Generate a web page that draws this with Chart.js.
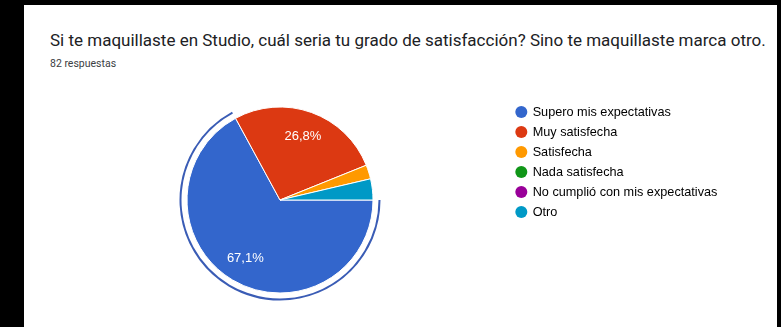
<!DOCTYPE html>
<html>
<head>
<meta charset="utf-8">
<script src="https://cdn.jsdelivr.net/npm/chart.js@4/dist/chart.umd.min.js"></script>
<style>
  html, body { margin: 0; padding: 0; width: 781px; height: 327px; background: #000; overflow: hidden; }
  #panel { position: absolute; left: 24px; top: 5px; width: 753px; height: 322px; background: #fff; }
  #title { position: absolute; left: 50px; top: 30px; font: 17px Roboto, sans-serif; color: #202124; white-space: nowrap; }
  #subtitle { position: absolute; left: 50px; top: 57px; font: 10.5px Roboto, sans-serif; color: #3c4043; white-space: nowrap; }
  #wrap { position: absolute; left: 0; top: 0; width: 781px; height: 327px; }
</style>
</head>
<body>
<div id="panel"></div>
<div id="title">Si te maquillaste en Studio, cuál seria tu grado de satisfacción? Sino te maquillaste marca otro.</div>
<div id="subtitle">82 respuestas</div>
<div id="wrap"><canvas id="chart" width="781" height="327"></canvas></div>
<script>
// Answer options and number of responses for each
const categories = [
  'Supero mis expectativas',
  'Muy satisfecha',
  'Satisfecha',
  'Nada satisfecha',
  'No cumplió con mis expectativas',
  'Otro'
];
const responses = [55, 22, 2, 0, 0, 3];

// Palette for the slices, in the same order as the categories
const sliceColors = ['#3366cc', '#dc3912', '#ff9900', '#109618', '#990099', '#0099c6'];
const highlightedSlice = 0;
const ringColor = '#3a5cb5';
const clear = 'rgba(0,0,0,0)';

const total = responses.reduce((a, b) => a + b, 0);

// Legend font and box settings
const legendFontSize = 12.7;
const legendFontFamily = '"Liberation Sans", Arial, sans-serif';
const legendBox = 10;
const legendPad = 7.3;

// Work out the legend width so the pie area ends where the legend begins
const measureCtx = document.createElement('canvas').getContext('2d');
measureCtx.font = legendFontSize + 'px ' + legendFontFamily;
const longestLabel = Math.max(...categories.map(t => measureCtx.measureText(t).width));
const legendWidth = legendPad + legendBox + legendFontSize / 2 + longestLabel + 10;
const pieAreaRight = 509;
const rightPad = 781 - pieAreaRight - legendWidth;

// Percentage labels placed inside the larger slices
const sliceLabels = {
  id: 'sliceLabels',
  afterDatasetsDraw(chart) {
    const meta = chart.getDatasetMeta(2);
    const ctx = chart.ctx;
    ctx.save();
    ctx.font = '13px "Liberation Sans", Arial, sans-serif';
    ctx.fillStyle = '#ffffff';
    ctx.textAlign = 'center';
    ctx.textBaseline = 'middle';
    meta.data.forEach((arc, i) => {
      const share = responses[i] / total;
      if (share < 0.05) return;
      const p = arc.getProps(['x', 'y', 'startAngle', 'endAngle', 'outerRadius']);
      const a = (p.startAngle + p.endAngle) / 2;
      const r = p.outerRadius * 0.73;
      const text = (share * 100).toFixed(1).replace('.', ',') + '%';
      ctx.fillText(text, p.x + Math.cos(a) * r, p.y + Math.sin(a) * r);
    });
    ctx.restore();
  }
};

new Chart(document.getElementById('chart'), {
  type: 'pie',
  data: {
    labels: categories,
    datasets: [
      {
        // thin outline ring around the highlighted slice
        data: responses,
        backgroundColor: sliceColors.map((c, i) => i === highlightedSlice ? ringColor : clear),
        borderWidth: 0,
        weight: 2
      },
      {
        // white gap between slice and outline
        data: responses,
        backgroundColor: clear,
        borderWidth: 0,
        weight: 5.5
      },
      {
        data: responses,
        backgroundColor: sliceColors,
        borderColor: '#ffffff',
        borderWidth: 1,
        weight: 93
      }
    ]
  },
  options: {
    responsive: false,
    animation: false,
    events: [],
    rotation: 90,
    radius: 100.5,
    layout: { padding: { left: 51, right: rightPad, top: 98.35, bottom: 25.35 } },
    plugins: {
      tooltip: { enabled: false },
      legend: {
        position: 'right',
        align: 'start',
        labels: {
          usePointStyle: true,
          boxWidth: legendBox,
          boxHeight: 8.5,
          padding: legendPad,
          color: '#444',
          font: { family: legendFontFamily, size: legendFontSize },
          generateLabels: () => categories.map((text, i) => ({
            text,
            fillStyle: sliceColors[i],
            strokeStyle: sliceColors[i],
            lineWidth: 0,
            pointStyle: 'circle',
            hidden: false,
            index: i
          }))
        }
      }
    }
  },
  plugins: [sliceLabels]
});
</script>
</body>
</html>
